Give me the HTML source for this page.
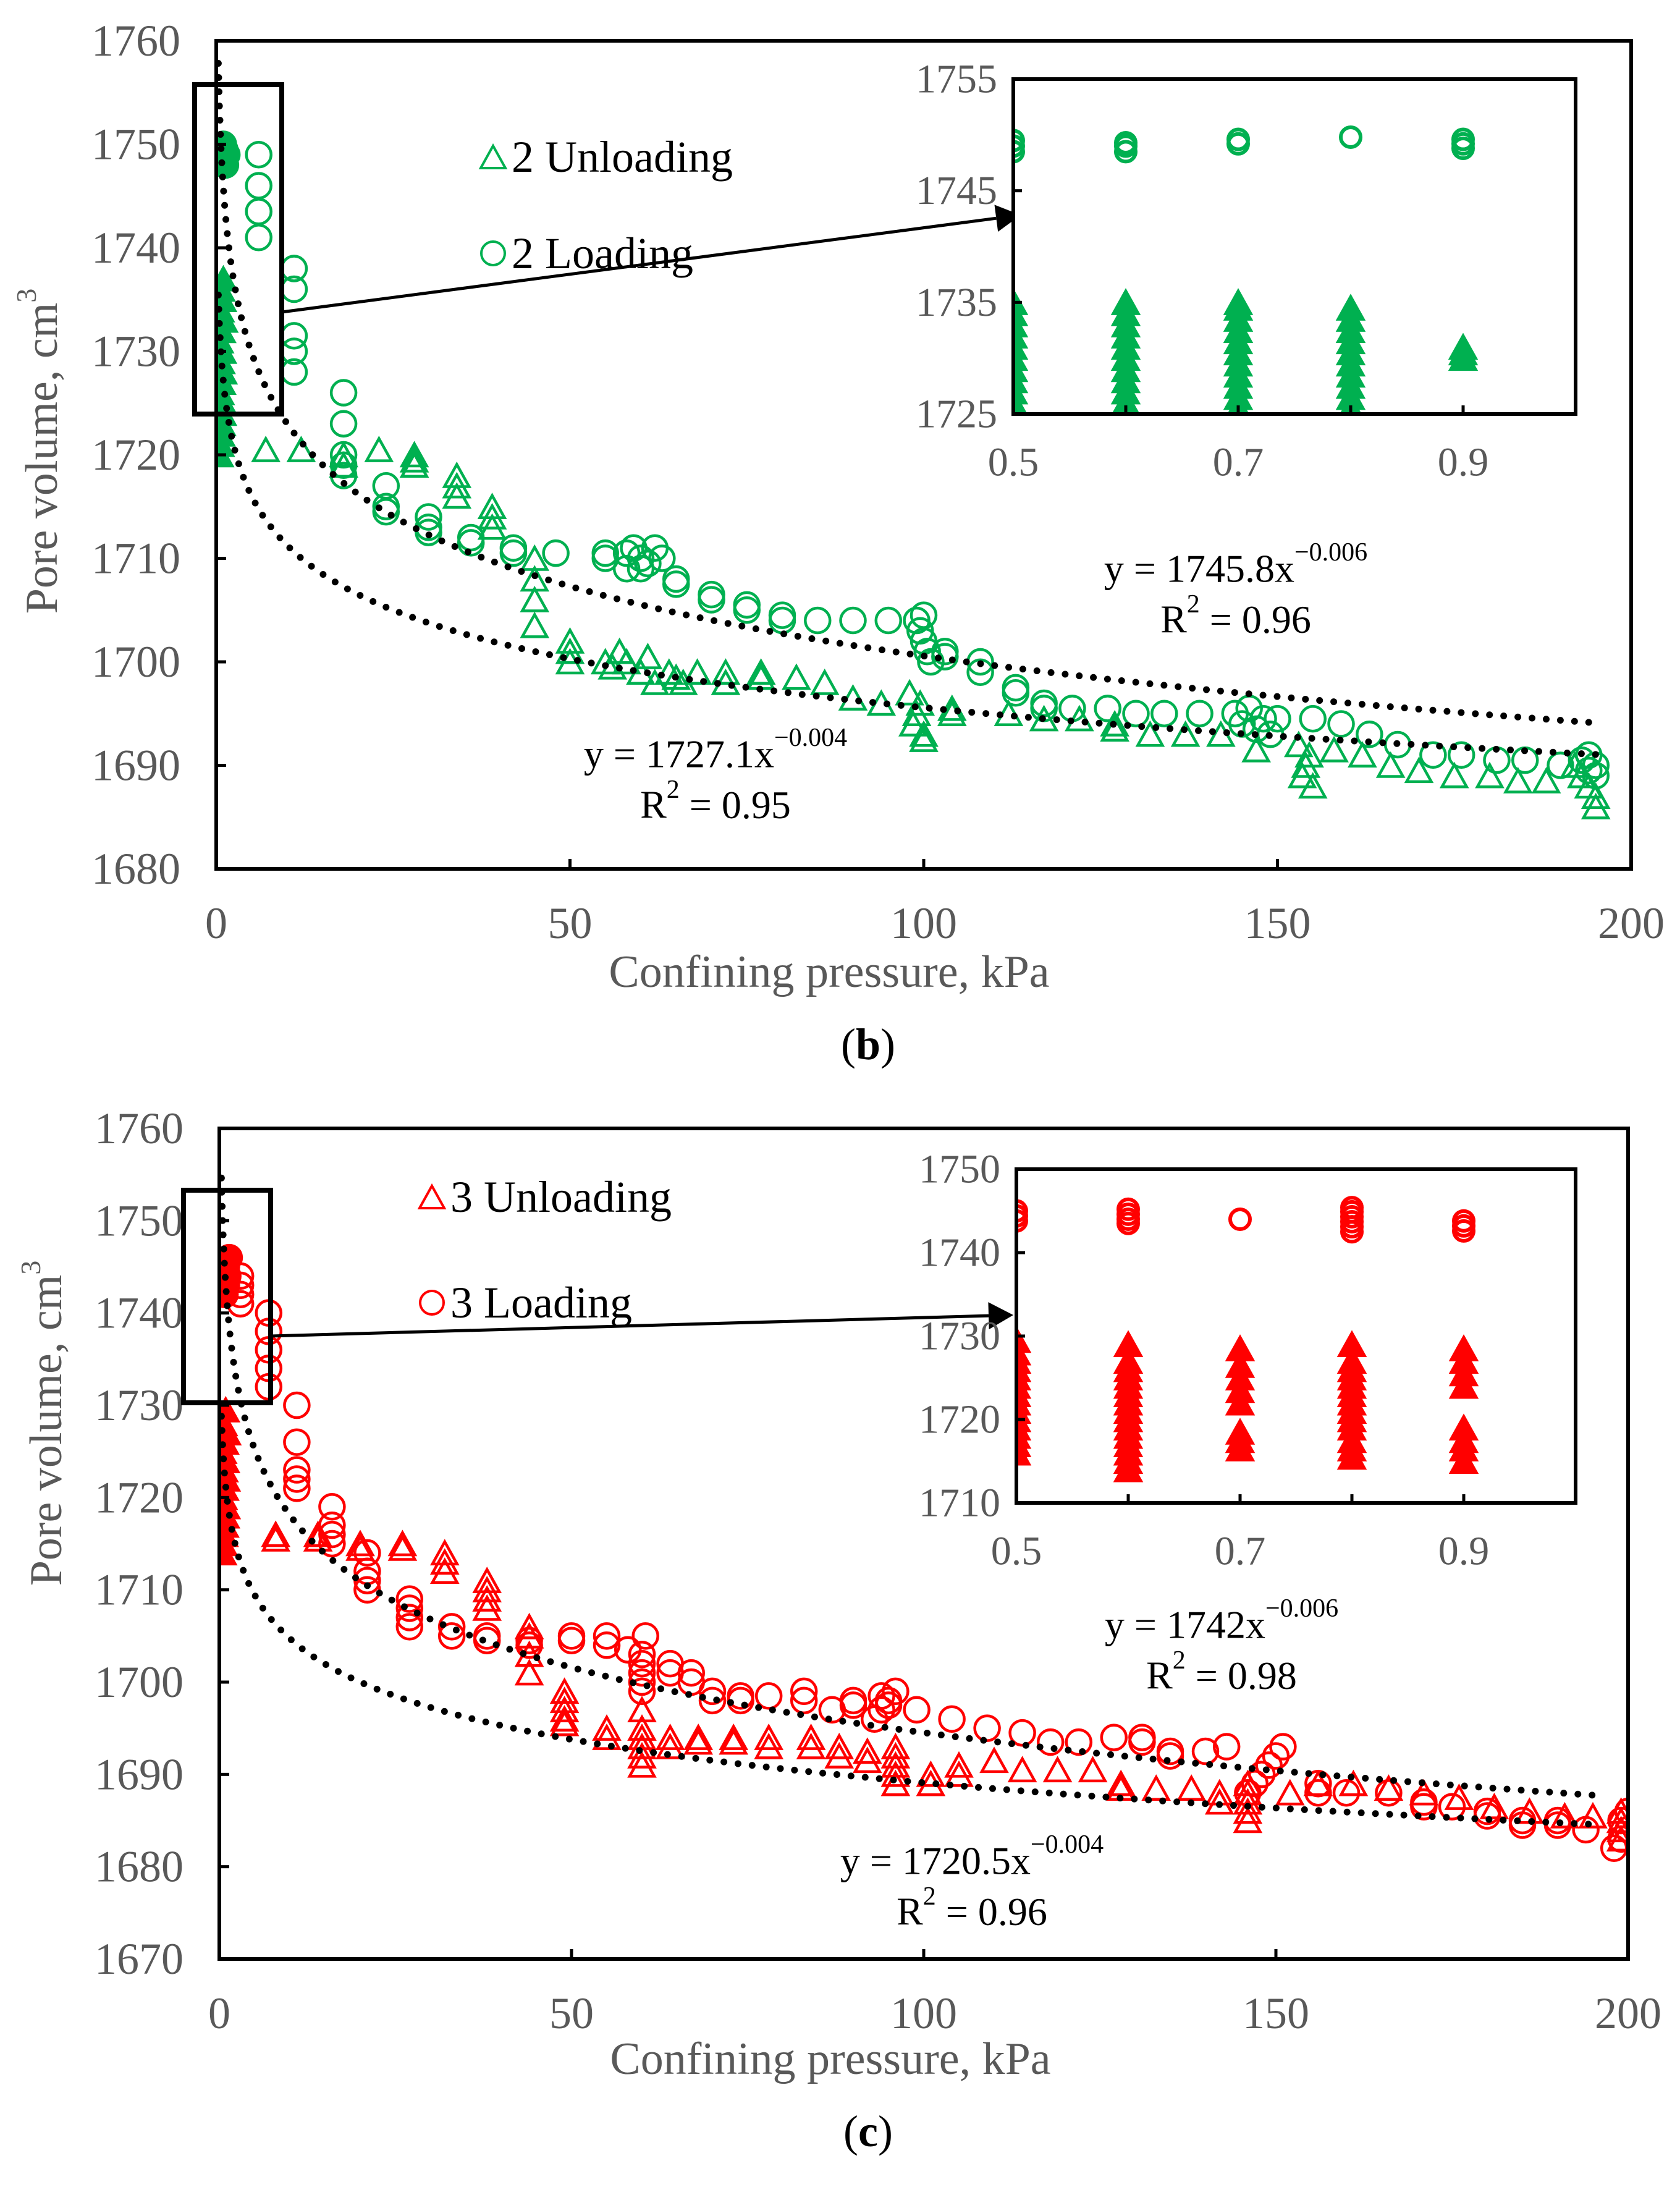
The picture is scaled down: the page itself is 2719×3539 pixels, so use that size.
<!DOCTYPE html>
<html><head><meta charset="utf-8"><style>
html,body{margin:0;padding:0;background:#fff;}
svg{display:block;font-family:"Liberation Serif",serif;}
</style></head><body>
<svg id="fig" width="2719" height="3539" viewBox="0 0 2719 3539" xmlns="http://www.w3.org/2000/svg"></svg>
<script>
// ---------- Chart (b) data ----------
const bLoadX = [0.8,1,1.2,1,1.5,1.3, 6,6,6,6, 11,11,11,11,11, 18,18,18,18,18, 24,24,24, 30,30,30, 36,36, 42,42, 48, 55,55, 58,59,60,61,62,63,60,58, 65,65, 70,70, 75,75, 80,80, 85, 90, 95, 99,99.5,100,100.5,101,100, 103,103, 108,108, 113,113, 117,117, 121, 126, 130, 134, 139, 144,145,146,147,148,149,150, 155, 159, 163, 167, 172, 176, 181, 185, 190, 193,194,195,194,195];
const bLoadY = [1748.5,1749,1749.5,1750,1749,1748, 1749,1746,1743.5,1741, 1738,1736,1731.5,1730,1728, 1726,1723,1720,1719,1718, 1717,1715,1714.5, 1714,1713,1712.5, 1712,1711.5, 1711,1710.5, 1710.5, 1710.5,1710, 1709,1711,1710,1709.5,1711,1710,1709,1710.5, 1708,1707.5, 1706.5,1706, 1705.5,1705, 1704.5,1704, 1704, 1704, 1704, 1704,1703,1702,1701,1700,1704.5, 1701,1700.5, 1700,1699, 1697.5,1697, 1696,1695.5, 1695.5, 1695.5, 1695, 1695, 1695, 1695,1694,1695.5,1693.5,1694.5,1693,1694.5, 1694.5, 1694, 1693, 1692, 1691, 1691, 1690.5, 1690.5, 1690, 1690.5,1689.5,1690,1691,1689];
const bUnX = [0.5,0.6,0.7,0.8,0.9,1,0.6,0.8,1,0.7,0.9,0.5,0.8,1.1,0.6,0.9,0.7,1, 7, 12, 18,18, 23, 28,28,28, 34,34,34, 39,39,39, 45,45,45,45, 50,50,50, 55,57,58,60,62,64,66,68,56,61,65, 72,72, 77,77, 82, 86, 90, 94, 98,99,100,98.5,99.5,100, 104,104, 112, 117, 122, 127,127, 132, 137, 142, 147, 153,154,155,153.5,154.5, 158, 162, 166, 170, 175, 180, 184, 188, 192,193,194,195,195];
const bUnY = [1720,1721,1722,1723,1724,1725,1726,1727,1728,1729,1730,1731,1732,1733,1734,1735,1736,1737, 1720.5, 1720.5, 1720,1719, 1720.5, 1720,1719.5,1719, 1718,1717,1716, 1715,1714,1713, 1710,1708,1706,1703.5, 1702,1701,1700, 1700,1701,1700,1699,1698,1699,1698,1699,1699.5,1700.5,1698.5, 1699,1698, 1699,1698.5, 1698.5, 1698, 1696.5, 1696, 1697,1695,1693,1694,1696,1692.5, 1695.5,1695, 1695, 1694.5, 1694.5, 1694,1693.5, 1693, 1693, 1693, 1691.5, 1692,1690,1688,1689,1691, 1691.5, 1691, 1690, 1689.5, 1689, 1689, 1688.5, 1688.5, 1690,1689,1688,1687,1686];
const bTrendA = [1745.8, 1727.1];
const bTrendB = [0.0057, 0.004];
// inset (b)
const bInLoadX = [0.5,0.5,0.5,0.6,0.6,0.6,0.7,0.7,0.8,0.9,0.9,0.9];
const bInLoadY = [1748.5,1749,1749.5,1748.5,1749,1749.3,1749.2,1749.6,1749.8,1748.8,1749.2,1749.6];
const bInUnX = [0.5,0.5,0.5,0.5,0.5,0.5,0.5,0.5,0.5,0.5,0.5, 0.6,0.6,0.6,0.6,0.6,0.6,0.6,0.6,0.6,0.6,0.6, 0.7,0.7,0.7,0.7,0.7,0.7,0.7,0.7,0.7,0.7,0.7, 0.8,0.8,0.8,0.8,0.8,0.8,0.8,0.8,0.8,0.8, 0.9,0.9,0.9];
const bInUnY = [1725,1726,1727,1728,1729,1730,1731,1732,1733,1734,1735, 1725,1726,1727,1728,1729,1730,1731,1732,1733,1734,1735, 1725.5,1726.5,1727.5,1728.5,1729.5,1730.5,1731.5,1732.5,1733.5,1734.5,1735, 1725.5,1726.5,1727.5,1728.5,1729.5,1730.5,1731.5,1732.5,1733.5,1734.5, 1730,1730.5,1731];
const bYTicks = ["1680","1690","1700","1710","1720","1730","1740","1750","1760"];
const bXTicks = ["0","50","100","150","200"];
const bInYTicks = ["1725","1735","1745","1755"];
const inXTicks = ["0.5","0.7","0.9"];

// ---------- Chart (c) data ----------
const cLoadX = [0.8,1,1.2,1,1.4,0.9, 3,3,3,3, 7,7,7,7,7, 11,11,11,11,11, 16,16,16,16, 21,21,21,21, 27,27,27,27, 33,33, 38,38, 44,44, 50,50, 55,55, 58, 60,60,60,60,60,60.5, 64,64, 67,67, 70,70, 74,74, 78, 83,83, 87, 90,90, 93,94,95,96,95,94, 99, 104, 109, 114, 118, 122, 127, 131,131, 135,135, 140, 143, 146,147,148,149,150,151, 156,156, 160, 166, 171,171, 175, 180,180, 185,185, 190,190, 194, 198,199,200,199,200];
const cLoadY = [1742,1743,1744,1745,1746,1744.5, 1744,1743,1742,1741, 1740,1738,1736,1734,1732, 1730,1726,1723,1722,1721, 1719,1717,1716,1715, 1714,1712,1711,1710, 1709,1708,1707,1706, 1706,1705, 1705,1704.5, 1704.5,1704, 1705,1704.5, 1705,1704, 1703.5, 1699,1700,1701,1702,1703,1705, 1702,1701, 1701,1700, 1699,1698, 1698.5,1698, 1698.5, 1699,1698, 1697, 1698,1697.5, 1696,1697,1698,1699,1697.5,1698.5, 1697, 1696, 1695, 1694.5, 1693.5, 1693.5, 1694, 1694,1693.5, 1692.5,1692, 1692.5, 1693, 1688,1689,1690,1691,1692,1693, 1689,1688, 1688, 1688, 1687,1686.5, 1686.5, 1686,1685.5, 1685,1684.5, 1685,1684.5, 1684, 1682,1683,1684,1685,1686];
const cUnX = [0.5,0.6,0.7,0.8,0.9,1,0.6,0.8,1,0.7,0.9,0.5,0.8,1.1,0.6,0.9, 8,8, 14,14, 20,20, 26,26, 32,32,32, 38,38,38,38, 44,44,44,44, 49,49,49,49,49, 55,55, 60,60,60,60,60,60, 64,64, 68,68, 73,73, 78,78, 84,84, 88,88, 92,92, 96,96,96,96,96, 101,101, 105,105, 110, 114, 119, 124, 128,128, 133, 138, 142,142, 146,146,146,146,146, 152, 156, 161, 166, 171, 176, 181, 186, 191, 195, 199,199,199,199];
const cUnY = [1714,1715,1716,1717,1718,1719,1720,1721,1722,1723,1724,1725,1726,1727,1728,1729.5, 1716,1715.5, 1716,1715.5, 1715,1714.5, 1715,1714.5, 1714,1713,1712, 1711,1710,1709,1708, 1706,1705,1703,1701, 1699,1698,1697,1696,1695.5, 1695,1694, 1691,1692,1693,1694,1695,1697, 1694,1693, 1694,1693.5, 1694,1693.5, 1694,1693, 1694,1693, 1693,1692, 1692.5,1691.5, 1689,1690,1691,1692,1693, 1690,1689, 1691,1690, 1691.5, 1690.5, 1690.5, 1690.5, 1689,1688.5, 1688.5, 1688.5, 1688,1687, 1685,1686,1687,1688,1689, 1688, 1689, 1689, 1688.5, 1688, 1687.5, 1686.5, 1686, 1685.5, 1685.5, 1683,1684,1685,1686];
const cTrendA = [1742, 1720.5];
const cTrendB = [0.006, 0.004];
const cInLoadX = [0.5,0.5,0.5,0.6,0.6,0.6,0.6,0.7,0.8,0.8,0.8,0.8,0.8,0.8,0.9,0.9,0.9];
const cInLoadY = [1743.8,1744.4,1745,1743.5,1744,1744.6,1745.2,1744,1742.5,1743.1,1743.7,1744.3,1744.9,1745.4,1742.6,1743.2,1743.8];
const cInUnX = [0.5,0.5,0.5,0.5,0.5,0.5,0.5,0.5,0.5,0.5,0.5,0.5,0.5,0.5, 0.6,0.6,0.6,0.6,0.6,0.6,0.6,0.6,0.6,0.6,0.6,0.6,0.6,0.6,0.6, 0.7,0.7,0.7,0.7,0.7,0.7,0.7,0.7, 0.8,0.8,0.8,0.8,0.8,0.8,0.8,0.8,0.8,0.8,0.8,0.8,0.8, 0.9,0.9,0.9,0.9,0.9,0.9,0.9,0.9];
const cInUnY = [1716,1717,1718,1719,1720,1721,1722,1723,1724,1725,1726,1727,1728,1729.5, 1714,1715,1716,1717,1718,1719,1720,1721,1722,1723,1724,1725,1726,1727,1729, 1722,1723.5,1725,1726.5,1728.5, 1716.5,1717.5,1718.5, 1720,1721,1722,1723,1724,1725,1726,1727,1729, 1715.5,1716.5,1717.5,1719, 1724,1725.5,1727,1728.5, 1715,1716.5,1717.5,1719];
const cYTicks = ["1670","1680","1690","1700","1710","1720","1730","1740","1750","1760"];
const cXTicks = ["0","50","100","150","200"];
const cInYTicks = ["1710","1720","1730","1740","1750"];

const NS = "http://www.w3.org/2000/svg";
const svg = document.getElementById('fig');
function mk(tag, attrs, parent){
  const e = document.createElementNS(NS, tag);
  for (const k in attrs) e.setAttribute(k, attrs[k]);
  (parent||svg).appendChild(e);
  return e;
}
function tri(g, cx, cy, s, color, sw, fill){
  const h = s*0.9;
  const p = mk('path', {d:`M${cx-s/2},${cy+h/2} L${cx},${cy-h/2} L${cx+s/2},${cy+h/2} Z`, fill:fill?color:'none', stroke:color, 'stroke-width':sw, 'stroke-linejoin':'miter'}, g);
  
  
}
function circ(g, cx, cy, r, color, sw, fill){
  const c = mk('circle', {cx:cx, cy:cy, r:r, fill:fill?color:'none', stroke:color, 'stroke-width':sw}, g);
  
  
}

function drawChart(o){
  const root = mk('g', {});
  
  
  const L=o.L,R=o.R,T=o.T,B=o.B;
  const xs = v => L + (v - o.xmin)/(o.xmax-o.xmin)*(R-L);
  const ys = v => B - (v - o.ymin)/(o.ymax-o.ymin)*(B-T);
  const id = o.name+'-clip';
  const cp = mk('clipPath', {id:id}, root);
  mk('rect', {x:L, y:T, width:R-L, height:B-T}, cp);
  const pts = mk('g', {'clip-path':`url(#${id})`}, root);
  
  
  for (let i=0;i<o.unX.length;i++) tri(pts, xs(o.unX[i]), ys(o.unY[i]), 40, o.color, 4.5, o.unX[i] < 2);
  for (let i=0;i<o.loadX.length;i++) circ(pts, xs(o.loadX[i]), ys(o.loadY[i]), 20, o.color, 4.5, o.loadX[i] < 2);
  // trend lines
  for (let k=0;k<o.trendA.length;k++){
    let d='';
    for (let j=0;j<=400;j++){
      const xv = Math.exp(Math.log(0.3) + (Math.log(o.xmax*0.975)-Math.log(0.3))*j/400);
      const yv = o.trendA[k]*Math.pow(xv, -o.trendB[k]);
      d += (j?'L':'M') + xs(xv).toFixed(1) + ',' + ys(yv).toFixed(1);
    }
    const tl = mk('path', {d:d, fill:'none', stroke:'#000', 'stroke-width':11, 'stroke-linecap':'round', 'stroke-dasharray':'0 23'}, pts);
    
    
  }
  // axes ticks
  o.yTicks.forEach((t,i)=>{
    const y = ys(+t);
    mk('line',{x1:L,x2:L+16,y1:y,y2:y,stroke:'#000','stroke-width':5},root);
    const tx = mk('text',{x:L-58,y:y,'text-anchor':'end','dominant-baseline':'central','font-size':72,fill:'#595959'},root);
    tx.textContent = t;
    
    
  });
  o.xTicks.forEach((t,i)=>{
    const x = xs(+t);
    mk('line',{x1:x,x2:x,y1:B,y2:B-16,stroke:'#000','stroke-width':5},root);
    const tx = mk('text',{x:x,y:B+88,'text-anchor':'middle','dominant-baseline':'central','font-size':72,fill:'#595959'},root);
    tx.textContent = t;
    
    
  });
  const fr = mk('rect',{x:L,y:T,width:R-L,height:B-T,fill:'none',stroke:'#000','stroke-width':6},root);
  
  

  // zoom box and arrow
  const zb = mk('rect',{x:o.box[0],y:o.box[1],width:o.box[2]-o.box[0],height:o.box[3]-o.box[1],fill:'none',stroke:'#000','stroke-width':8},root);
  
  
  const a = o.arrow;
  const ang = Math.atan2(a[3]-a[1], a[2]-a[0]);
  const hx = a[2]-40*Math.cos(ang), hy = a[3]-40*Math.sin(ang);
  mk('line',{x1:a[0],y1:a[1],x2:hx,y2:hy,stroke:'#000','stroke-width':5},root);
  const ah = mk('path',{d:`M${a[2]},${a[3]} L${hx+22*Math.sin(ang)},${hy-22*Math.cos(ang)} L${hx-22*Math.sin(ang)},${hy+22*Math.cos(ang)} Z`,fill:'#000'},root);
  
  

  // inset
  const I = o.inset;
  const ixs = v => I.L + (v-0.5)/0.5*(I.R-I.L);
  const iys = v => I.B - (v-I.ymin)/(I.ymax-I.ymin)*(I.B-I.T);
  mk('rect',{x:I.L,y:I.T,width:I.R-I.L,height:I.B-I.T,fill:'#fff'},root);
  const icp = mk('clipPath',{id:id+'-in'},root);
  mk('rect',{x:I.L,y:I.T,width:I.R-I.L,height:I.B-I.T},icp);
  const ig = mk('g',{'clip-path':`url(#${id}-in)`},root);
  
  
  for (let i=0;i<I.unX.length;i++) tri(ig, ixs(I.unX[i]), iys(I.unY[i]), 40, o.color, 5, true);
  for (let i=0;i<I.loadX.length;i++) circ(ig, ixs(I.loadX[i]), iys(I.loadY[i]), 16, o.color, 6, false);
  I.yTicks.forEach(t=>{
    const y = iys(+t);
    mk('line',{x1:I.L,x2:I.L+14,y1:y,y2:y,stroke:'#000','stroke-width':5},root);
    const tx = mk('text',{x:I.L-26,y:y,'text-anchor':'end','dominant-baseline':'central','font-size':66,fill:'#595959'},root);
    tx.textContent=t;
    
    
  });
  [0.6,0.7,0.8,0.9].forEach(v=>{
    mk('line',{x1:ixs(v),x2:ixs(v),y1:I.B,y2:I.B-14,stroke:'#000','stroke-width':5},root);
  });
  inXTicks.forEach(t=>{
    const tx = mk('text',{x:ixs(+t),y:I.B+78,'text-anchor':'middle','dominant-baseline':'central','font-size':66,fill:'#595959'},root);
    tx.textContent=t;
    
    
  });
  const ifr = mk('rect',{x:I.L,y:I.T,width:I.R-I.L,height:I.B-I.T,fill:'none',stroke:'#000','stroke-width':6},root);
  
  

  // legend
  tri(root, o.leg[0], o.leg[1], 40, o.color, 4, false);
  const l1 = mk('text',{x:o.leg[0]+30,y:o.leg[1],'dominant-baseline':'central','font-size':72,fill:'#000'},root);
  l1.textContent = o.legText[0];
  
  
  circ(root, o.leg[0], o.leg[2], 19, o.color, 4, false);
  const l2 = mk('text',{x:o.leg[0]+30,y:o.leg[2],'dominant-baseline':'central','font-size':72,fill:'#000'},root);
  l2.textContent = o.legText[1];
  
  

  // equations
  o.eq.forEach(e=>{
    const t1 = mk('text',{x:e[0],y:e[1],'text-anchor':'middle','dominant-baseline':'central','font-size':64,fill:'#000'},root);
    t1.innerHTML = `y = ${e[2]}x<tspan dy="-26" font-size="42">−${e[3]}</tspan>`;
    
    
    const t2 = mk('text',{x:e[0],y:e[1]+82,'text-anchor':'middle','dominant-baseline':'central','font-size':64,fill:'#000'},root);
    t2.innerHTML = `R<tspan dy="-24" font-size="42">2</tspan><tspan dy="24"> = ${e[4]}</tspan>`;
    
    
  });

  // axis titles
  const yt = mk('text',{x:0,y:0,transform:`translate(${o.ytitle[0]},${o.ytitle[1]}) rotate(-90)`,'text-anchor':'middle','dominant-baseline':'central','font-size':74,fill:'#595959'},root);
  yt.innerHTML = 'Pore volume, cm<tspan dy="-26" font-size="46">3</tspan>';
  
  
  const xt = mk('text',{x:o.xtitle[0],y:o.xtitle[1],'text-anchor':'middle','dominant-baseline':'central','font-size':74,fill:'#595959'},root);
  xt.textContent = 'Confining pressure, kPa';
  
  
  const cap = mk('text',{x:o.cap[0],y:o.cap[1],'text-anchor':'middle','dominant-baseline':'central','font-size':72,fill:'#000'},root);
  cap.innerHTML = `(<tspan font-weight="bold">${o.cap[2]}</tspan>)`;
  
  
}

drawChart({name:'chart-b', L:350,R:2640,T:66,B:1406, xmin:0,xmax:200,ymin:1680,ymax:1760, color:'#00B050',
  loadX:bLoadX, loadY:bLoadY, unX:bUnX, unY:bUnY, trendA:bTrendA, trendB:bTrendB,
  yTicks:bYTicks, xTicks:bXTicks, box:[315,137,456,670], arrow:[456,505,1652,348],
  inset:{L:1640,R:2550,T:128,B:670,ymin:1725,ymax:1755, loadX:bInLoadX, loadY:bInLoadY, unX:bInUnX, unY:bInUnY, yTicks:bInYTicks},
  leg:[798,254,410], legText:['2 Unloading','2 Loading'],
  eq:[[2000,920,'1745.8','0.006','0.96'],[1158,1220,'1727.1','0.004','0.95']],
  ytitle:[68,730], xtitle:[1342,1573], cap:[1405,1690,'b']});

drawChart({name:'chart-c', L:355,R:2635,T:1826,B:3170, xmin:0,xmax:200,ymin:1670,ymax:1760, color:'#FF0000',
  loadX:cLoadX, loadY:cLoadY, unX:cUnX, unY:cUnY, trendA:cTrendA, trendB:cTrendB,
  yTicks:cYTicks, xTicks:cXTicks, box:[297,1926,438,2270], arrow:[438,2162,1640,2128],
  inset:{L:1645,R:2550,T:1892,B:2432,ymin:1710,ymax:1750, loadX:cInLoadX, loadY:cInLoadY, unX:cInUnX, unY:cInUnY, yTicks:cInYTicks},
  leg:[699,1937,2108], legText:['3 Unloading','3 Loading'],
  eq:[[1977,2629,'1742','0.006','0.98'],[1573,3011,'1720.5','0.004','0.96']],
  ytitle:[75,2303], xtitle:[1344,3332], cap:[1405,3449,'c']});
</script>
</body></html>
